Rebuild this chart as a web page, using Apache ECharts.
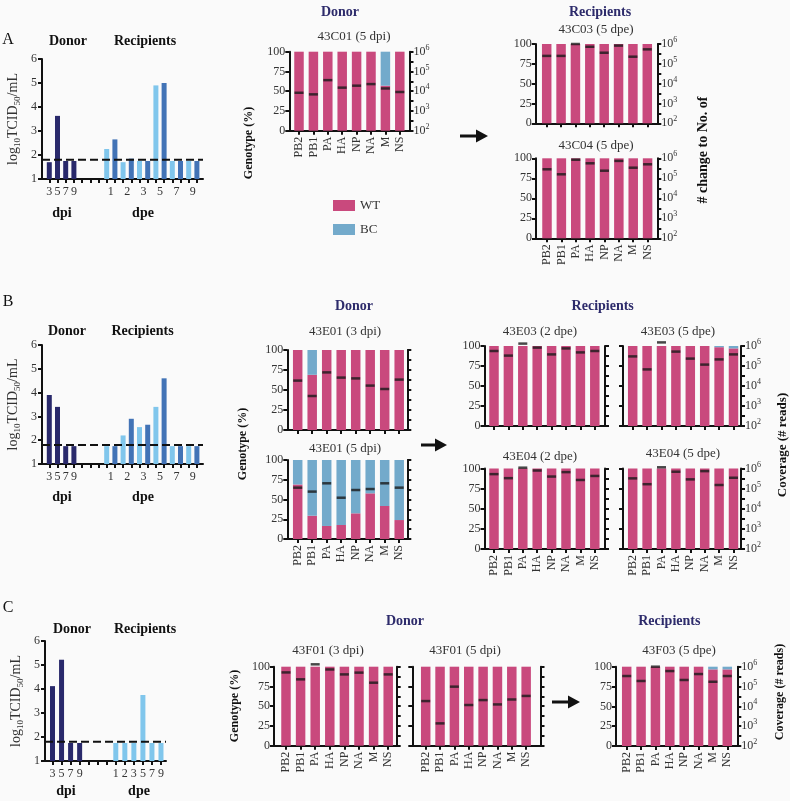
<!DOCTYPE html>
<html><head><meta charset="utf-8">
<script src="https://cdn.jsdelivr.net/npm/echarts@6/dist/echarts.min.js"></script>
<style>html,body{margin:0;padding:0;background:#fafafa}#c{width:790px;height:801px}</style>
</head><body><div id="c"></div>
<script>
// ---------------- DATA ----------------
const genes = ['PB2','PB1','PA','HA','NP','NA','M','NS'];
const donorDays = ['3','5','7','9'];
const recipDays = ['1','2','3','5','7','9'];
const LOD = 1.8; // log10 TCID50/mL detection limit

// Virus titers (log10 TCID50/mL)
const A_donor = [1.7, 3.63, 1.75, 1.75];
const A_recip1 = [2.25, 1.7, 1.75, 4.9, 1.75, 1.75];
const A_recip2 = [2.65, 1.85, 1.75, 5.0, 1.75, 1.75];
const B_donor = [3.9, 3.4, 1.75, 1.75];
const B_recip1 = [1.75, 2.2, 2.55, 3.4, 1.75, 1.75];
const B_recip2 = [1.75, 2.9, 2.65, 4.6, 1.75, 1.75];
const C_donor = [4.12, 5.22, 1.75, 1.75];
const C_recip = [1.75, 1.75, 1.75, 3.75, 1.75, 1.75];

// Genotype WT % per segment, and coverage (log10 # reads)
const wt_43C01_5dpi = [100,100,100,100,100,100,57,100];
const cov_43C01_5dpi = [3.92,3.84,4.56,4.18,4.28,4.36,4.14,3.96];
const wt_43C03_5dpe = [100,100,100,100,100,100,100,100];
const cov_43C03_5dpe = [5.40,5.40,6.0,5.86,5.56,5.92,5.36,5.73];
const wt_43C04_5dpe = [100,100,100,100,100,100,100,100];
const cov_43C04_5dpe = [5.45,5.20,5.93,5.75,5.38,5.87,5.53,5.70];
const wt_43E01_3dpi = [100,69,100,100,100,100,100,100];
const cov_43E01_3dpi = [4.47,3.70,4.88,4.62,4.58,4.22,4.05,4.52];
const wt_43E01_5dpi = [69,29.5,16.5,17.7,32.5,57.8,41.8,24];
const cov_43E01_5dpi = [4.60,4.40,4.82,4.09,4.48,4.53,4.82,4.60];
const wt_43E03_2dpe = [100,100,100,100,100,100,100,100];
const cov_43E03_2dpe = [5.75,5.52,6.12,5.92,5.58,5.88,5.68,5.75];
const wt_43E03_5dpe = [100,100,100,100,100,100,98.5,97];
const cov_43E03_5dpe = [5.48,4.83,6.18,5.72,5.37,5.07,5.33,5.58];
const wt_43E04_2dpe = [100,100,100,100,100,100,100,100];
const cov_43E04_2dpe = [5.72,5.52,6.04,5.90,5.60,5.82,5.43,5.63];
const wt_43E04_5dpe = [100,100,100,100,100,100,100,100];
const cov_43E04_5dpe = [5.51,5.22,6.06,5.84,5.46,5.87,5.18,5.54];
const wt_43F01_3dpi = [100,100,100,100,100,100,100,100];
const cov_43F01_3dpi = [5.71,5.36,6.12,5.86,5.61,5.70,5.19,5.61];
const wt_43F01_5dpi = [100,100,100,100,100,100,100,100];
const cov_43F01_5dpi = [4.26,3.13,4.99,4.06,4.31,4.09,4.34,4.52];
const wt_43F03_5dpe = [100,100,100,100,100,100,96.6,96.6];
const cov_43F03_5dpe = [5.53,5.28,6.0,5.78,5.33,5.63,5.24,5.53];

// ---------------- STYLE ----------------
const FONT = "'Liberation Serif','DejaVu Serif',serif";
const INK = '#111';
const TXT = '#333';
const NAVY = '#2d2b6b';
const WT_C = '#c9497d';
const BC_C = '#73aacb';
const DONOR_C = '#29296b';
const LIGHT_C = '#80c6ec';
const DARK_C = '#4273b6';
const LS = {color: INK, width: 2};

const option = {
  backgroundColor: '#fafafa', animation: false,
  grid: [], xAxis: [], yAxis: [], series: [], graphic: [],
  legend: {data: ['WT','BC'], orient: 'vertical', left: 328, top: 194, itemWidth: 22, itemHeight: 11, itemGap: 11,
    icon: 'rect', selectedMode: false, textStyle: {fontSize: 13, fontFamily: FONT, color: TXT}}
};

function addTiter(p) {
  const g = option.grid.length, n = p.n;
  const xi = option.xAxis.length, yi = option.yAxis.length;
  option.grid.push({left: p.axL, top: p.top, width: p.axR - p.axL, height: p.bot - p.top});
  option.grid.push({left: p.dL, top: p.top, width: p.dR - p.dL, height: p.bot - p.top});
  option.xAxis.push({gridIndex: g, type: 'value', min: 0, max: 1, position: 'bottom',
    axisLine: {show: true, onZero: false, lineStyle: LS}, axisTick: {show: false}, axisLabel: {show: false}, splitLine: {show: false}});
  option.xAxis.push({gridIndex: g + 1, type: 'category', position: 'bottom', data: [...Array(n).keys()].map(String),
    axisLine: {show: false, onZero: false}, axisTick: {show: true, alignWithLabel: true, length: 4, lineStyle: LS},
    axisLabel: {show: true, interval: 0, fontSize: 12, fontFamily: FONT, color: TXT, margin: 7, formatter: (v, i) => p.catLabel(i)},
    splitLine: {show: false}});
  if (p.recipPos) {
    option.xAxis.push({gridIndex: g + 1, type: 'value', position: 'bottom', min: 0, max: n, interval: 1,
      axisLine: {show: false, onZero: false}, axisTick: {show: false}, splitLine: {show: false},
      axisLabel: {show: true, fontSize: 12, fontFamily: FONT, color: TXT, margin: 7, formatter: v => (p.recipPos[v] || '')}});
  }
  option.yAxis.push({gridIndex: g, type: 'value', min: 1, max: 6, interval: 1,
    axisLine: {show: true, onZero: false, lineStyle: LS}, axisTick: {show: true, length: 4, lineStyle: LS},
    axisLabel: {fontSize: 12, fontFamily: FONT, color: TXT, margin: 5}, splitLine: {show: false},
    name: '{n|log}{s|10}{n|TCID}{s|50}{n|/mL}', nameLocation: 'middle', nameRotate: 90, nameGap: 20,
    nameTextStyle: {rich: {
      n: {fontSize: 14, fontFamily: FONT, color: TXT, lineHeight: 18},
      s: {fontSize: 9, fontFamily: FONT, color: TXT, lineHeight: 10, verticalAlign: 'bottom'}}}});
  option.yAxis.push({gridIndex: g + 1, type: 'value', min: 1, max: 6, show: false});
  p.groups.forEach(gr => {
    const d = Array(n).fill('-');
    gr.idx.forEach((k, j) => { d[k] = gr.vals[j]; });
    option.series.push({type: 'bar', xAxisIndex: xi + 1, yAxisIndex: yi + 1, data: d, barWidth: 5, barGap: '-100%',
      itemStyle: {color: gr.color}, silent: true});
  });
  option.series.push({type: 'line', xAxisIndex: xi, yAxisIndex: yi, data: [[0, LOD], [1, LOD]], symbol: 'none',
    lineStyle: {color: INK, width: 2, type: [8, 4]}, z: 5, silent: true});
}

function addGeno(p) {
  const g = option.grid.length;
  const xi = option.xAxis.length, yi = option.yAxis.length;
  const h = p.bot - p.top;
  option.grid.push({left: p.axL, top: p.top, width: p.axR - p.axL, height: h});
  option.grid.push({left: p.c0 - p.sp / 2, top: p.top, width: p.sp * 8, height: h});
  option.xAxis.push({gridIndex: g, type: 'value', min: 0, max: 1, position: 'bottom',
    axisLine: {show: true, onZero: false, lineStyle: LS}, axisTick: {show: false}, axisLabel: {show: false}, splitLine: {show: false}});
  option.xAxis.push({gridIndex: g + 1, type: 'category', position: 'bottom', data: genes,
    axisLine: {show: false, onZero: false}, axisTick: {show: true, alignWithLabel: true, length: 4, lineStyle: LS},
    axisLabel: {show: p.xLab, rotate: 90, interval: 0, fontSize: 12, fontFamily: FONT, color: TXT, margin: 6},
    splitLine: {show: false}});
  option.yAxis.push({gridIndex: g, type: 'value', min: 0, max: 100, interval: 25, position: 'left',
    axisLine: {show: true, onZero: false, lineStyle: LS}, axisTick: {show: true, length: 4, lineStyle: LS},
    axisLabel: {show: p.lLab, fontSize: 12, fontFamily: FONT, color: TXT, margin: 4}, splitLine: {show: false}});
  option.yAxis.push({gridIndex: g, type: 'value', min: 2, max: 6, interval: 1, position: 'right',
    axisLine: {show: true, onZero: false, lineStyle: LS}, axisTick: {show: true, length: 4, lineStyle: LS},
    minorTick: {show: true, splitNumber: 2, length: 4, lineStyle: LS}, minorSplitLine: {show: false},
    axisLabel: {show: p.rLab, margin: 4, formatter: v => '{b|10}{s|' + v + '}',
      rich: {b: {fontSize: 12, fontFamily: FONT, color: TXT, lineHeight: 16},
             s: {fontSize: 8, fontFamily: FONT, color: TXT, lineHeight: 8, verticalAlign: 'top'}}},
    splitLine: {show: false}});
  option.yAxis.push({gridIndex: g + 1, type: 'value', min: 0, max: 100, show: false});
  option.yAxis.push({gridIndex: g + 1, type: 'value', min: 2, max: 6, show: false});
  option.series.push({type: 'bar', name: 'WT', xAxisIndex: xi + 1, yAxisIndex: yi + 2, stack: 'st' + g,
    data: p.wt, barWidth: 9.5, itemStyle: {color: WT_C}, silent: true});
  option.series.push({type: 'bar', name: 'BC', xAxisIndex: xi + 1, yAxisIndex: yi + 2, stack: 'st' + g,
    data: p.wt.map(v => 100 - v), barWidth: 9.5, itemStyle: {color: BC_C}, silent: true});
  option.series.push({type: 'scatter', xAxisIndex: xi + 1, yAxisIndex: yi + 3, data: p.cov, symbol: 'rect',
    symbolSize: [9, 2.5], itemStyle: {color: '#1a1a1a'}, clip: false, z: 6, silent: true});
}

// ---------- titer panels ----------
const recipPos19 = {}; recipDays.forEach((d, j) => { recipPos19[8 + 2 * j] = d; });
const abLabel = i => (i < 4 ? donorDays[i] : '');
const donorIdx = [0, 1, 2, 3];
const lightIdx19 = recipDays.map((d, j) => 7 + 2 * j);
const darkIdx19 = recipDays.map((d, j) => 8 + 2 * j);
addTiter({axL: 42, axR: 203, dL: 45.2, dR: 201, top: 59, bot: 179, n: 19, catLabel: abLabel, recipPos: recipPos19,
  groups: [{vals: A_donor, idx: donorIdx, color: DONOR_C}, {vals: A_recip1, idx: lightIdx19, color: LIGHT_C}, {vals: A_recip2, idx: darkIdx19, color: DARK_C}]});
addTiter({axL: 42, axR: 203, dL: 45.2, dR: 201, top: 345, bot: 464, n: 19, catLabel: abLabel, recipPos: recipPos19,
  groups: [{vals: B_donor, idx: donorIdx, color: DONOR_C}, {vals: B_recip1, idx: lightIdx19, color: LIGHT_C}, {vals: B_recip2, idx: darkIdx19, color: DARK_C}]});
addTiter({axL: 45, axR: 166, dL: 48, dR: 165.5, top: 641, bot: 761, n: 13,
  catLabel: i => (i < 4 ? donorDays[i] : (i >= 7 ? recipDays[i - 7] : '')),
  groups: [{vals: C_donor, idx: donorIdx, color: DONOR_C}, {vals: C_recip, idx: recipDays.map((d, j) => 7 + j), color: LIGHT_C}]});

// ---------- genotype panels ----------
addGeno({axL: 289.3, axR: 409.5, top: 51.7, bot: 130.7, c0: 299, sp: 14.4, wt: wt_43C01_5dpi, cov: cov_43C01_5dpi, xLab: true, lLab: true, rLab: true});
addGeno({axL: 535.7, axR: 657.3, top: 44, bot: 123.3, c0: 546.7, sp: 14.37, wt: wt_43C03_5dpe, cov: cov_43C03_5dpe, xLab: false, lLab: true, rLab: true});
addGeno({axL: 536, axR: 657.3, top: 158.3, bot: 238.3, c0: 547, sp: 14.37, wt: wt_43C04_5dpe, cov: cov_43C04_5dpe, xLab: true, lLab: true, rLab: true});
addGeno({axL: 287.3, axR: 407.3, top: 350, bot: 430, c0: 297.7, sp: 14.5, wt: wt_43E01_3dpi, cov: cov_43E01_3dpi, xLab: false, lLab: true, rLab: false});
addGeno({axL: 287.3, axR: 407.3, top: 460, bot: 539, c0: 297.7, sp: 14.5, wt: wt_43E01_5dpi, cov: cov_43E01_5dpi, xLab: true, lLab: true, rLab: false});
addGeno({axL: 484.5, axR: 605, top: 346, bot: 426, c0: 494, sp: 14.4, wt: wt_43E03_2dpe, cov: cov_43E03_2dpe, xLab: false, lLab: true, rLab: false});
addGeno({axL: 623, axR: 741, top: 346, bot: 426, c0: 632.7, sp: 14.4, wt: wt_43E03_5dpe, cov: cov_43E03_5dpe, xLab: false, lLab: false, rLab: true});
addGeno({axL: 484.5, axR: 605, top: 468.5, bot: 549, c0: 494, sp: 14.4, wt: wt_43E04_2dpe, cov: cov_43E04_2dpe, xLab: true, lLab: true, rLab: false});
addGeno({axL: 623, axR: 741, top: 468.5, bot: 549, c0: 632.7, sp: 14.4, wt: wt_43E04_5dpe, cov: cov_43E04_5dpe, xLab: true, lLab: false, rLab: true});
addGeno({axL: 274, axR: 396.7, top: 666.7, bot: 745.7, c0: 286, sp: 14.6, wt: wt_43F01_3dpi, cov: cov_43F01_3dpi, xLab: true, lLab: true, rLab: false});
addGeno({axL: 412.3, axR: 540.5, top: 666.7, bot: 745.7, c0: 425.7, sp: 14.35, wt: wt_43F01_5dpi, cov: cov_43F01_5dpi, xLab: true, lLab: false, rLab: false});
addGeno({axL: 616, axR: 737.3, top: 666.7, bot: 746, c0: 626.7, sp: 14.37, wt: wt_43F03_5dpe, cov: cov_43F03_5dpe, xLab: true, lLab: true, rLab: true});

// ---------- free text ----------
function T(text, x, y, size, weight, fill, rot) {
  option.graphic.push({type: 'text', x: x, y: y, rotation: rot ? Math.PI / 2 : 0, silent: true,
    style: {text: text, fontSize: size, fontFamily: FONT, fontWeight: weight, fill: fill, align: 'center', verticalAlign: 'middle'}});
}
T('A', 8, 40, 16, 'normal', INK); T('B', 8, 302, 16, 'normal', INK); T('C', 8, 608, 16, 'normal', INK);
T('Donor', 68, 41, 14, 'bold', INK); T('Recipients', 145, 41, 14, 'bold', INK);
T('Donor', 67, 331, 14, 'bold', INK); T('Recipients', 142.5, 331, 14, 'bold', INK);
T('Donor', 72, 629, 14, 'bold', INK); T('Recipients', 145, 629, 14, 'bold', INK);
T('dpi', 62, 213, 14, 'bold', INK); T('dpe', 143, 213, 14, 'bold', INK);
T('dpi', 62, 497, 14, 'bold', INK); T('dpe', 143, 497, 14, 'bold', INK);
T('dpi', 66, 791, 14, 'bold', INK); T('dpe', 139, 791, 14, 'bold', INK);
T('Donor', 340, 12, 14, 'bold', NAVY); T('Recipients', 600, 12, 14, 'bold', NAVY);
T('Donor', 354, 306, 14, 'bold', NAVY); T('Recipients', 602.7, 306, 14, 'bold', NAVY);
T('Donor', 405, 621.7, 14, 'bold', NAVY); T('Recipients', 669.3, 621, 14, 'bold', NAVY);
T('43C01 (5 dpi)', 354, 37, 13, 'normal', TXT);
T('43C03 (5 dpe)', 596, 30, 13, 'normal', TXT);
T('43C04 (5 dpe)', 596, 146, 13, 'normal', TXT);
T('43E01 (3 dpi)', 345, 332, 13, 'normal', TXT);
T('43E01 (5 dpi)', 345, 449, 13, 'normal', TXT);
T('43E03 (2 dpe)', 540, 332, 13, 'normal', TXT);
T('43E03 (5 dpe)', 678, 332, 13, 'normal', TXT);
T('43E04 (2 dpe)', 540, 456.5, 13, 'normal', TXT);
T('43E04 (5 dpe)', 683, 454, 13, 'normal', TXT);
T('43F01 (3 dpi)', 328, 651, 13, 'normal', TXT);
T('43F01 (5 dpi)', 465, 651, 13, 'normal', TXT);
T('43F03 (5 dpe)', 679, 651, 13, 'normal', TXT);
T('Genotype (%)', 249, 143, 12, 'bold', INK, true);
T('Genotype (%)', 243, 444, 12, 'bold', INK, true);
T('Genotype (%)', 235, 706, 12, 'bold', INK, true);
T('# change to No. of', 703, 150, 14, 'bold', INK, true);
T('Coverage (# reads)', 783, 445, 13, 'bold', INK, true);
T('Coverage (# reads)', 780, 692, 12, 'bold', INK, true);

function arrow(x1, x2, y) {
  option.graphic.push({type: 'polygon', silent: true, shape: {points: [[x1, y - 1.5], [x2 - 12, y - 1.5], [x2 - 12, y - 6.5], [x2, y], [x2 - 12, y + 6.5], [x2 - 12, y + 1.5], [x1, y + 1.5]]},
    style: {fill: INK}});
}
arrow(460, 488, 136);
arrow(421, 447, 445);
arrow(552, 580, 702);

const chart = echarts.init(document.getElementById('c'), null, {renderer: 'canvas'});
chart.setOption(option);
</script></body></html>
